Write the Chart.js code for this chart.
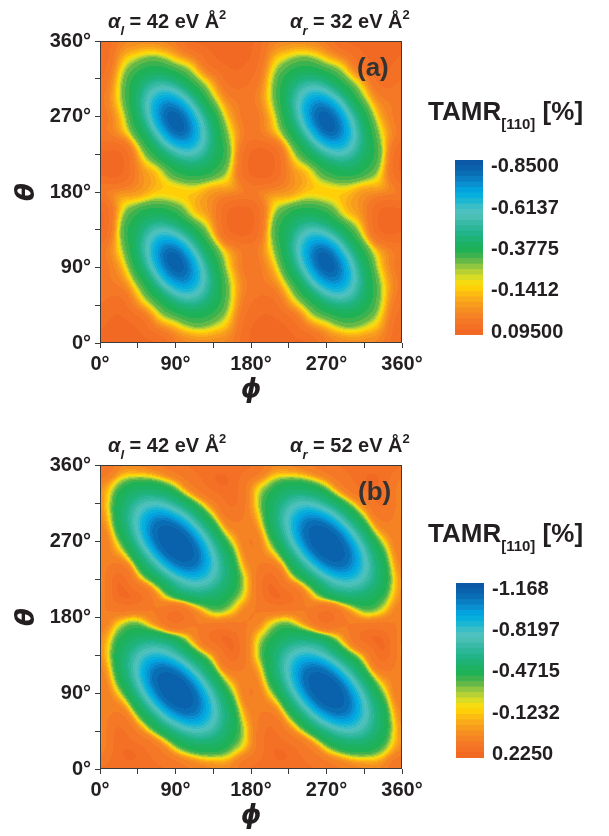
<!DOCTYPE html>
<html>
<head>
<meta charset="utf-8">
<script src="https://cdn.jsdelivr.net/npm/chart.js@4.4.1/dist/chart.umd.min.js"></script>
<style>
  html, body { margin: 0; padding: 0; background: #fff; }
  #page { position: relative; width: 609px; height: 836px; overflow: hidden;
          font-family: 'Liberation Sans', Arial, sans-serif; color: #231f20; }
  canvas { position: absolute; }
  .lbl { position: absolute; font-weight: bold; white-space: nowrap; }
  .alpha { font-size: 20px; line-height: 20px; }
  .alpha .s { font-size: 13px; position: relative; top: 7px; font-style: italic; }
  .alpha .p { font-size: 13px; position: relative; top: -9px; }
  .tamr { font-size: 26px; line-height: 26px; }
  .tamr .s { font-size: 15px; position: relative; top: 9px; }
  .panel { font-size: 26px; line-height: 26px; color: #333; }
</style>
</head>
<body>
<div id="page">
  <canvas id="heatA" width="430" height="410" style="left:0;top:0"></canvas>
  <canvas id="barA" width="169" height="215" style="left:440px;top:140px"></canvas>
  <canvas id="heatB" width="430" height="412" style="left:0;top:424px"></canvas>
  <canvas id="barB" width="168" height="215" style="left:441px;top:563px"></canvas>

  <div class="lbl alpha" style="left:108px;top:11px"><i>α</i><span class="s">l</span> = 42 eV Å<span class="p">2</span></div>
  <div class="lbl alpha" style="left:290px;top:11px"><i>α</i><span class="s">r</span> = 32 eV Å<span class="p">2</span></div>
  <div class="lbl panel" style="left:357px;top:54px">(a)</div>
  <div class="lbl tamr" style="left:428px;top:98px">TAMR<span class="s">[110]</span> [%]</div>

  <div class="lbl alpha" style="left:108px;top:435px"><i>α</i><span class="s">l</span> = 42 eV Å<span class="p">2</span></div>
  <div class="lbl alpha" style="left:290px;top:435px"><i>α</i><span class="s">r</span> = 52 eV Å<span class="p">2</span></div>
  <div class="lbl panel" style="left:358px;top:478px">(b)</div>
  <div class="lbl tamr" style="left:428px;top:520px">TAMR<span class="s">[110]</span> [%]</div>
</div>
<script>
// grid of the maps, degrees
const phi = [0, 22.5, 45, 67.5, 90, 112.5, 135, 157.5, 180, 202.5, 225, 247.5, 270, 292.5, 315, 337.5, 360];
const theta = [0, 22.5, 45, 67.5, 90, 112.5, 135, 157.5, 180, 202.5, 225, 247.5, 270, 292.5, 315, 337.5, 360];

// TAMR[110] (%); one row per theta, one column per phi
const tamrA = [
  [0.085, 0.09, 0.09, 0.08, 0.023, -0.019, -0.021, 0.018, 0.085, 0.09, 0.09, 0.08, 0.023, -0.019, -0.021, 0.018, 0.085],
  [0.075, 0.09, 0.07, -0.018, -0.184, -0.317, -0.274, -0.059, 0.075, 0.09, 0.07, -0.018, -0.184, -0.317, -0.274, -0.059, 0.075],
  [0.05, 0.064, -0.02, -0.316, -0.416, -0.453, -0.386, -0.175, 0.05, 0.064, -0.02, -0.316, -0.416, -0.453, -0.386, -0.175, 0.05],
  [0.027, 0.019, -0.27, -0.452, -0.675, -0.663, -0.435, -0.205, 0.027, 0.019, -0.27, -0.452, -0.675, -0.663, -0.435, -0.205, 0.027],
  [0.037, -0.058, -0.385, -0.663, -0.845, -0.707, -0.412, -0.107, 0.037, -0.058, -0.385, -0.663, -0.845, -0.707, -0.412, -0.107, 0.037],
  [0.036, -0.174, -0.435, -0.708, -0.786, -0.555, -0.343, -0.015, 0.036, -0.174, -0.435, -0.708, -0.786, -0.555, -0.343, -0.015, 0.036],
  [0.085, -0.207, -0.413, -0.556, -0.519, -0.376, -0.086, 0.09, 0.085, -0.207, -0.413, -0.556, -0.519, -0.376, -0.086, 0.09, 0.085],
  [0.085, -0.108, -0.344, -0.377, -0.346, -0.143, -0.005, 0.09, 0.085, -0.108, -0.344, -0.377, -0.346, -0.143, -0.005, 0.09, 0.085],
  [0.026, -0.016, -0.053, -0.144, -0.144, -0.144, -0.053, -0.016, 0.026, -0.016, -0.053, -0.144, -0.144, -0.144, -0.053, -0.016, 0.026],
  [0.085, 0.09, -0.005, -0.143, -0.346, -0.377, -0.344, -0.108, 0.085, 0.09, -0.005, -0.143, -0.346, -0.377, -0.344, -0.108, 0.085],
  [0.085, 0.09, -0.086, -0.376, -0.519, -0.556, -0.413, -0.207, 0.085, 0.09, -0.086, -0.376, -0.519, -0.556, -0.413, -0.207, 0.085],
  [0.036, -0.015, -0.343, -0.555, -0.786, -0.708, -0.435, -0.174, 0.036, -0.015, -0.343, -0.555, -0.786, -0.708, -0.435, -0.174, 0.036],
  [0.037, -0.107, -0.412, -0.707, -0.845, -0.663, -0.385, -0.058, 0.037, -0.107, -0.412, -0.707, -0.845, -0.663, -0.385, -0.058, 0.037],
  [0.027, -0.205, -0.435, -0.663, -0.675, -0.452, -0.27, 0.019, 0.027, -0.205, -0.435, -0.663, -0.675, -0.452, -0.27, 0.019, 0.027],
  [0.05, -0.175, -0.386, -0.453, -0.416, -0.316, -0.02, 0.064, 0.05, -0.175, -0.386, -0.453, -0.416, -0.316, -0.02, 0.064, 0.05],
  [0.075, -0.059, -0.274, -0.317, -0.184, -0.018, 0.07, 0.09, 0.075, -0.059, -0.274, -0.317, -0.184, -0.018, 0.07, 0.09, 0.075],
  [0.085, 0.018, -0.021, -0.019, 0.023, 0.08, 0.09, 0.09, 0.085, 0.018, -0.021, -0.019, 0.023, 0.08, 0.09, 0.09, 0.085]
];

// TAMR[110] (%)
const tamrB = [
  [0.17, 0.2, 0.2, 0.18, 0.14, 0.105, 0.074, 0.084, 0.17, 0.2, 0.2, 0.18, 0.14, 0.105, 0.074, 0.084, 0.17],
  [0.077, 0.2, 0.2, 0.13, -0.137, -0.446, -0.463, -0.327, 0.077, 0.2, 0.2, 0.13, -0.137, -0.446, -0.463, -0.327, 0.077],
  [0.03, 0.18, 0.092, -0.427, -0.609, -0.759, -0.674, -0.483, 0.03, 0.18, 0.092, -0.427, -0.609, -0.759, -0.674, -0.483, 0.03],
  [0.078, 0.114, -0.432, -0.726, -1.047, -1.086, -0.814, -0.485, 0.078, 0.114, -0.432, -0.726, -1.047, -1.086, -0.814, -0.485, 0.078],
  [0.12, -0.203, -0.636, -1.069, -1.169, -1.12, -0.699, -0.342, 0.12, -0.203, -0.636, -1.069, -1.169, -1.12, -0.699, -0.342, 0.12],
  [0.089, -0.469, -0.808, -1.124, -1.127, -0.837, -0.485, 0.081, 0.089, -0.469, -0.808, -1.124, -1.127, -0.837, -0.485, 0.081, 0.089],
  [0.038, -0.493, -0.73, -0.869, -0.728, -0.491, 0.04, 0.2, 0.038, -0.493, -0.73, -0.869, -0.728, -0.491, 0.04, 0.2, 0.038],
  [0.066, -0.422, -0.513, -0.51, -0.388, 0.076, 0.19, 0.2, 0.066, -0.422, -0.513, -0.51, -0.388, 0.076, 0.19, 0.2, 0.066],
  [0.12, 0.04, -0.033, 0.12, 0.2, 0.12, -0.033, 0.04, 0.12, 0.04, -0.033, 0.12, 0.2, 0.12, -0.033, 0.04, 0.12],
  [0.066, 0.2, 0.19, 0.076, -0.388, -0.51, -0.513, -0.422, 0.066, 0.2, 0.19, 0.076, -0.388, -0.51, -0.513, -0.422, 0.066],
  [0.038, 0.2, 0.04, -0.491, -0.728, -0.869, -0.73, -0.493, 0.038, 0.2, 0.04, -0.491, -0.728, -0.869, -0.73, -0.493, 0.038],
  [0.089, 0.081, -0.485, -0.837, -1.127, -1.124, -0.808, -0.469, 0.089, 0.081, -0.485, -0.837, -1.127, -1.124, -0.808, -0.469, 0.089],
  [0.12, -0.342, -0.699, -1.12, -1.169, -1.069, -0.636, -0.203, 0.12, -0.342, -0.699, -1.12, -1.169, -1.069, -0.636, -0.203, 0.12],
  [0.078, -0.485, -0.814, -1.086, -1.047, -0.726, -0.432, 0.114, 0.078, -0.485, -0.814, -1.086, -1.047, -0.726, -0.432, 0.114, 0.078],
  [0.03, -0.483, -0.674, -0.759, -0.609, -0.427, 0.092, 0.18, 0.03, -0.483, -0.674, -0.759, -0.609, -0.427, 0.092, 0.18, 0.03],
  [0.077, -0.327, -0.463, -0.446, -0.137, 0.13, 0.2, 0.2, 0.077, -0.327, -0.463, -0.446, -0.137, 0.13, 0.2, 0.2, 0.077],
  [0.17, 0.084, 0.074, 0.105, 0.14, 0.18, 0.2, 0.2, 0.17, 0.084, 0.074, 0.105, 0.14, 0.18, 0.2, 0.2, 0.17]
];

// colour bar ticks
const ticksA = [-0.85, -0.6137, -0.3775, -0.1412, 0.095];
const tickLabelsA = ["-0.8500", "-0.6137", "-0.3775", "-0.1412", "0.09500"];
const ticksB = [-1.168, -0.8197, -0.4715, -0.1232, 0.225];
const tickLabelsB = ["-1.168", "-0.8197", "-0.4715", "-0.1232", "0.2250"];

const ink = '#231f20';
const LEVELS = 32;
// colour ramp, 0 = bottom of the colour bar (max), 1 = top (min)
const ramp = [
  [0.00, '#f26522'], [0.09, '#f47b25'], [0.16, '#f7961f'], [0.22, '#fbb317'], [0.264, '#ffcf08'],
  [0.30, '#f5dc12'], [0.32, '#e2df1f'], [0.355, '#bcd334'], [0.40, '#86c243'], [0.436, '#4fb44b'],
  [0.48, '#1fb154'], [0.527, '#1cb268'], [0.58, '#22b48a'], [0.636, '#35b9a4'], [0.69, '#55c2bc'],
  [0.736, '#38bdc6'], [0.78, '#0cb3d8'], [0.818, '#00a9e4'], [0.864, '#0b8dce'], [0.91, '#0a73b9'],
  [0.955, '#0a60ab'], [1.00, '#0b55a3']
];
const hex = h => [1, 3, 5].map(i => parseInt(h.substr(i, 2), 16));
function rampAt(t) {
  for (let i = 1; i < ramp.length; i++) {
    if (t <= ramp[i][0]) {
      const a = ramp[i - 1], b = ramp[i];
      const f = (t - a[0]) / (b[0] - a[0]);
      const ca = hex(a[1]), cb = hex(b[1]);
      return ca.map((c, k) => Math.round(c + (cb[k] - c) * f));
    }
  }
  return hex(ramp[ramp.length - 1][1]);
}
const levelRGB = Array.from({length: LEVELS}, (_, l) => rampAt((l + 0.5) / LEVELS));

// the surface is interpolated on a squared-distance-like scale so the
// contours between grid nodes stay elliptical; [value, warped] pairs
const warpA = [[-0.85, 0], [-0.845, 0.01], [-0.8, 0.04], [-0.726, 0.09], [-0.646, 0.16], [-0.546, 0.25],
  [-0.451, 0.36], [-0.394, 0.49], [-0.352, 0.64], [-0.3, 0.81], [-0.22, 0.9], [-0.14, 1.0],
  [-0.07, 1.12], [-0.02, 1.25], [0.02, 1.44], [0.045, 1.69], [0.06, 1.96], [0.07, 2.1], [0.09, 2.35], [0.2, 4]];
const warpB = [[-1.17, 0], [-1.164, 0.01], [-1.147, 0.04], [-1.12, 0.09], [-1.0, 0.16], [-0.87, 0.25],
  [-0.72, 0.36], [-0.58, 0.49], [-0.5, 0.64], [-0.42, 0.81], [-0.3, 0.9025], [-0.13, 1.0],
  [0.0, 1.1025], [0.07, 1.21], [0.09, 1.3225], [0.12, 1.44], [0.14, 1.69], [0.15, 1.85], [0.2, 2.2], [0.3, 3]];
function lookup(tab, x, from, to) {
  if (x <= tab[0][from]) return tab[0][to];
  for (let i = 1; i < tab.length; i++) {
    if (x <= tab[i][from]) {
      const a = tab[i - 1], b = tab[i];
      return a[to] + (b[to] - a[to]) * (x - a[from]) / (b[from] - a[from]);
    }
  }
  return tab[tab.length - 1][to];
}

function cubic(p0, p1, p2, p3, t) {
  return p1 + 0.5 * t * (p2 - p0 + t * (2 * p0 - 5 * p1 + 4 * p2 - p3 + t * (3 * (p1 - p2) + p3 - p0)));
}
function sample(grid, gx, gy) {
  const n = grid.length, m = grid[0].length;
  const ix = Math.floor(gx), iy = Math.floor(gy);
  const tx = gx - ix, ty = gy - iy;
  const row = j => {
    const r = grid[Math.min(n - 1, Math.max(0, j))];
    const c = i => r[Math.min(m - 1, Math.max(0, i))];
    return cubic(c(ix - 1), c(ix), c(ix + 1), c(ix + 2), tx);
  };
  return cubic(row(iy - 1), row(iy), row(iy + 1), row(iy + 2), ty);
}

const fieldPlugin = {
  id: 'field',
  beforeDatasetsDraw(chart, args, opts) {
    const {ctx, chartArea: a, scales: {x, y}} = chart;
    const w = Math.round(a.right - a.left), h = Math.round(a.bottom - a.top);
    const off = document.createElement('canvas');
    off.width = w; off.height = h;
    const octx = off.getContext('2d');
    const img = octx.createImageData(w, h);
    const xs = opts.phi, ys = opts.theta, tab = opts.warp;
    const grid = opts.values.map(r => r.map(v => lookup(tab, v, 0, 1)));
    const sx = xs[1] - xs[0], sy = ys[1] - ys[0];
    for (let py = 0; py < h; py++) {
      const gy = (y.getValueForPixel(a.top + py + 0.5) - ys[0]) / sy;
      for (let px = 0; px < w; px++) {
        const gx = (x.getValueForPixel(a.left + px + 0.5) - xs[0]) / sx;
        const v = lookup(tab, sample(grid, gx, gy), 1, 0);
        let l = Math.floor((opts.hi - v) / (opts.hi - opts.lo) * LEVELS);
        l = Math.max(0, Math.min(LEVELS - 1, l));
        const c = levelRGB[l], k = (py * w + px) * 4;
        img.data[k] = c[0]; img.data[k + 1] = c[1]; img.data[k + 2] = c[2]; img.data[k + 3] = 255;
      }
    }
    octx.putImageData(img, 0, 0);
    ctx.drawImage(off, a.left, a.top);
  },
  afterDatasetsDraw(chart) {
    const {ctx, chartArea: a} = chart;
    ctx.save();
    ctx.strokeStyle = '#3a3a3a';
    ctx.lineWidth = 1;
    ctx.strokeRect(a.left + 0.5, a.top + 0.5, a.right - a.left - 1, a.bottom - a.top - 1);
    ctx.restore();
  }
};

const tickFont = {size: 20, weight: 'bold'};
function angleAxis(title, pad, extra) {
  return Object.assign({
    type: 'linear', min: 0, max: 360,
    grid: {drawOnChartArea: false, tickLength: 5, color: '#3a3a3a'},
    border: {display: false},
    ticks: {stepSize: 45, autoSkip: false, maxRotation: 0, padding: 4, color: ink, font: tickFont,
            callback: v => (v % 90 === 0 ? v + '°' : '')},
    title: {display: true, text: title, color: ink, padding: pad,
            font: {size: 26, weight: 'bold', style: 'italic', family: "'DejaVu Sans', 'Liberation Sans', sans-serif"}}
  }, extra);
}

function makeField(id, values, lo, hi, warp) {
  const pts = [];
  theta.forEach((t, j) => phi.forEach((p, i) => pts.push({x: p, y: t, v: values[j][i]})));
  return new Chart(document.getElementById(id), {
    type: 'scatter',
    data: {datasets: [{label: 'TAMR', data: pts, pointRadius: 0, showLine: false}]},
    options: {
      responsive: false, animation: false,
      layout: {padding: {left: 0, top: 41, right: 28, bottom: 0}},
      plugins: {legend: {display: false}, tooltip: {enabled: false},
                field: {phi: phi, theta: theta, values: values, lo: lo, hi: hi, warp: warp}},
      scales: {
        x: angleAxis('ϕ', {top: 4, bottom: 4}, {position: 'bottom', afterFit: s => { s.height = 67; }}),
        y: angleAxis('θ', {top: 12, bottom: 4}, {position: 'left', afterFit: s => { s.width = 100; }})
      }
    },
    plugins: [fieldPlugin]
  });
}

function makeBar(id, lo, hi, ticks, labels) {
  const step = (hi - lo) / LEVELS;
  const sets = levelRGB.map((c, l) => ({
    label: 'level ' + l,
    data: [[hi - (l + 1) * step, hi - l * step + (l > 0 ? 0.3 * step : 0)]],
    backgroundColor: 'rgb(' + c.join(',') + ')',
    borderWidth: 0, grouped: false, barPercentage: 1, categoryPercentage: 1
  }));
  return new Chart(document.getElementById(id), {
    type: 'bar',
    data: {labels: ['TAMR'], datasets: sets},
    options: {
      responsive: false, animation: false,
      layout: {padding: {left: 15, top: 17, right: 0, bottom: 15}},
      plugins: {legend: {display: false}, tooltip: {enabled: false}},
      scales: {
        x: {display: false},
        y: {position: 'right', min: lo, max: hi, reverse: true,
            grid: {display: false, drawTicks: false}, border: {display: false},
            afterBuildTicks: s => { s.ticks = ticks.map(v => ({value: v})); },
            afterFit: s => { s.width = s.chart.width - 15 - 28; },
            ticks: {padding: 8, color: ink, font: tickFont, callback: (v, i) => labels[i]}}
      }
    }
  });
}

Chart.defaults.font.family = "'Liberation Sans', Arial, sans-serif";
makeField('heatA', tamrA, -0.888, 0.111, warpA);
makeBar('barA', -0.888, 0.111, ticksA, tickLabelsA);
makeField('heatB', tamrB, -1.225, 0.257, warpB);
makeBar('barB', -1.225, 0.257, ticksB, tickLabelsB);
</script>
</body>
</html>
